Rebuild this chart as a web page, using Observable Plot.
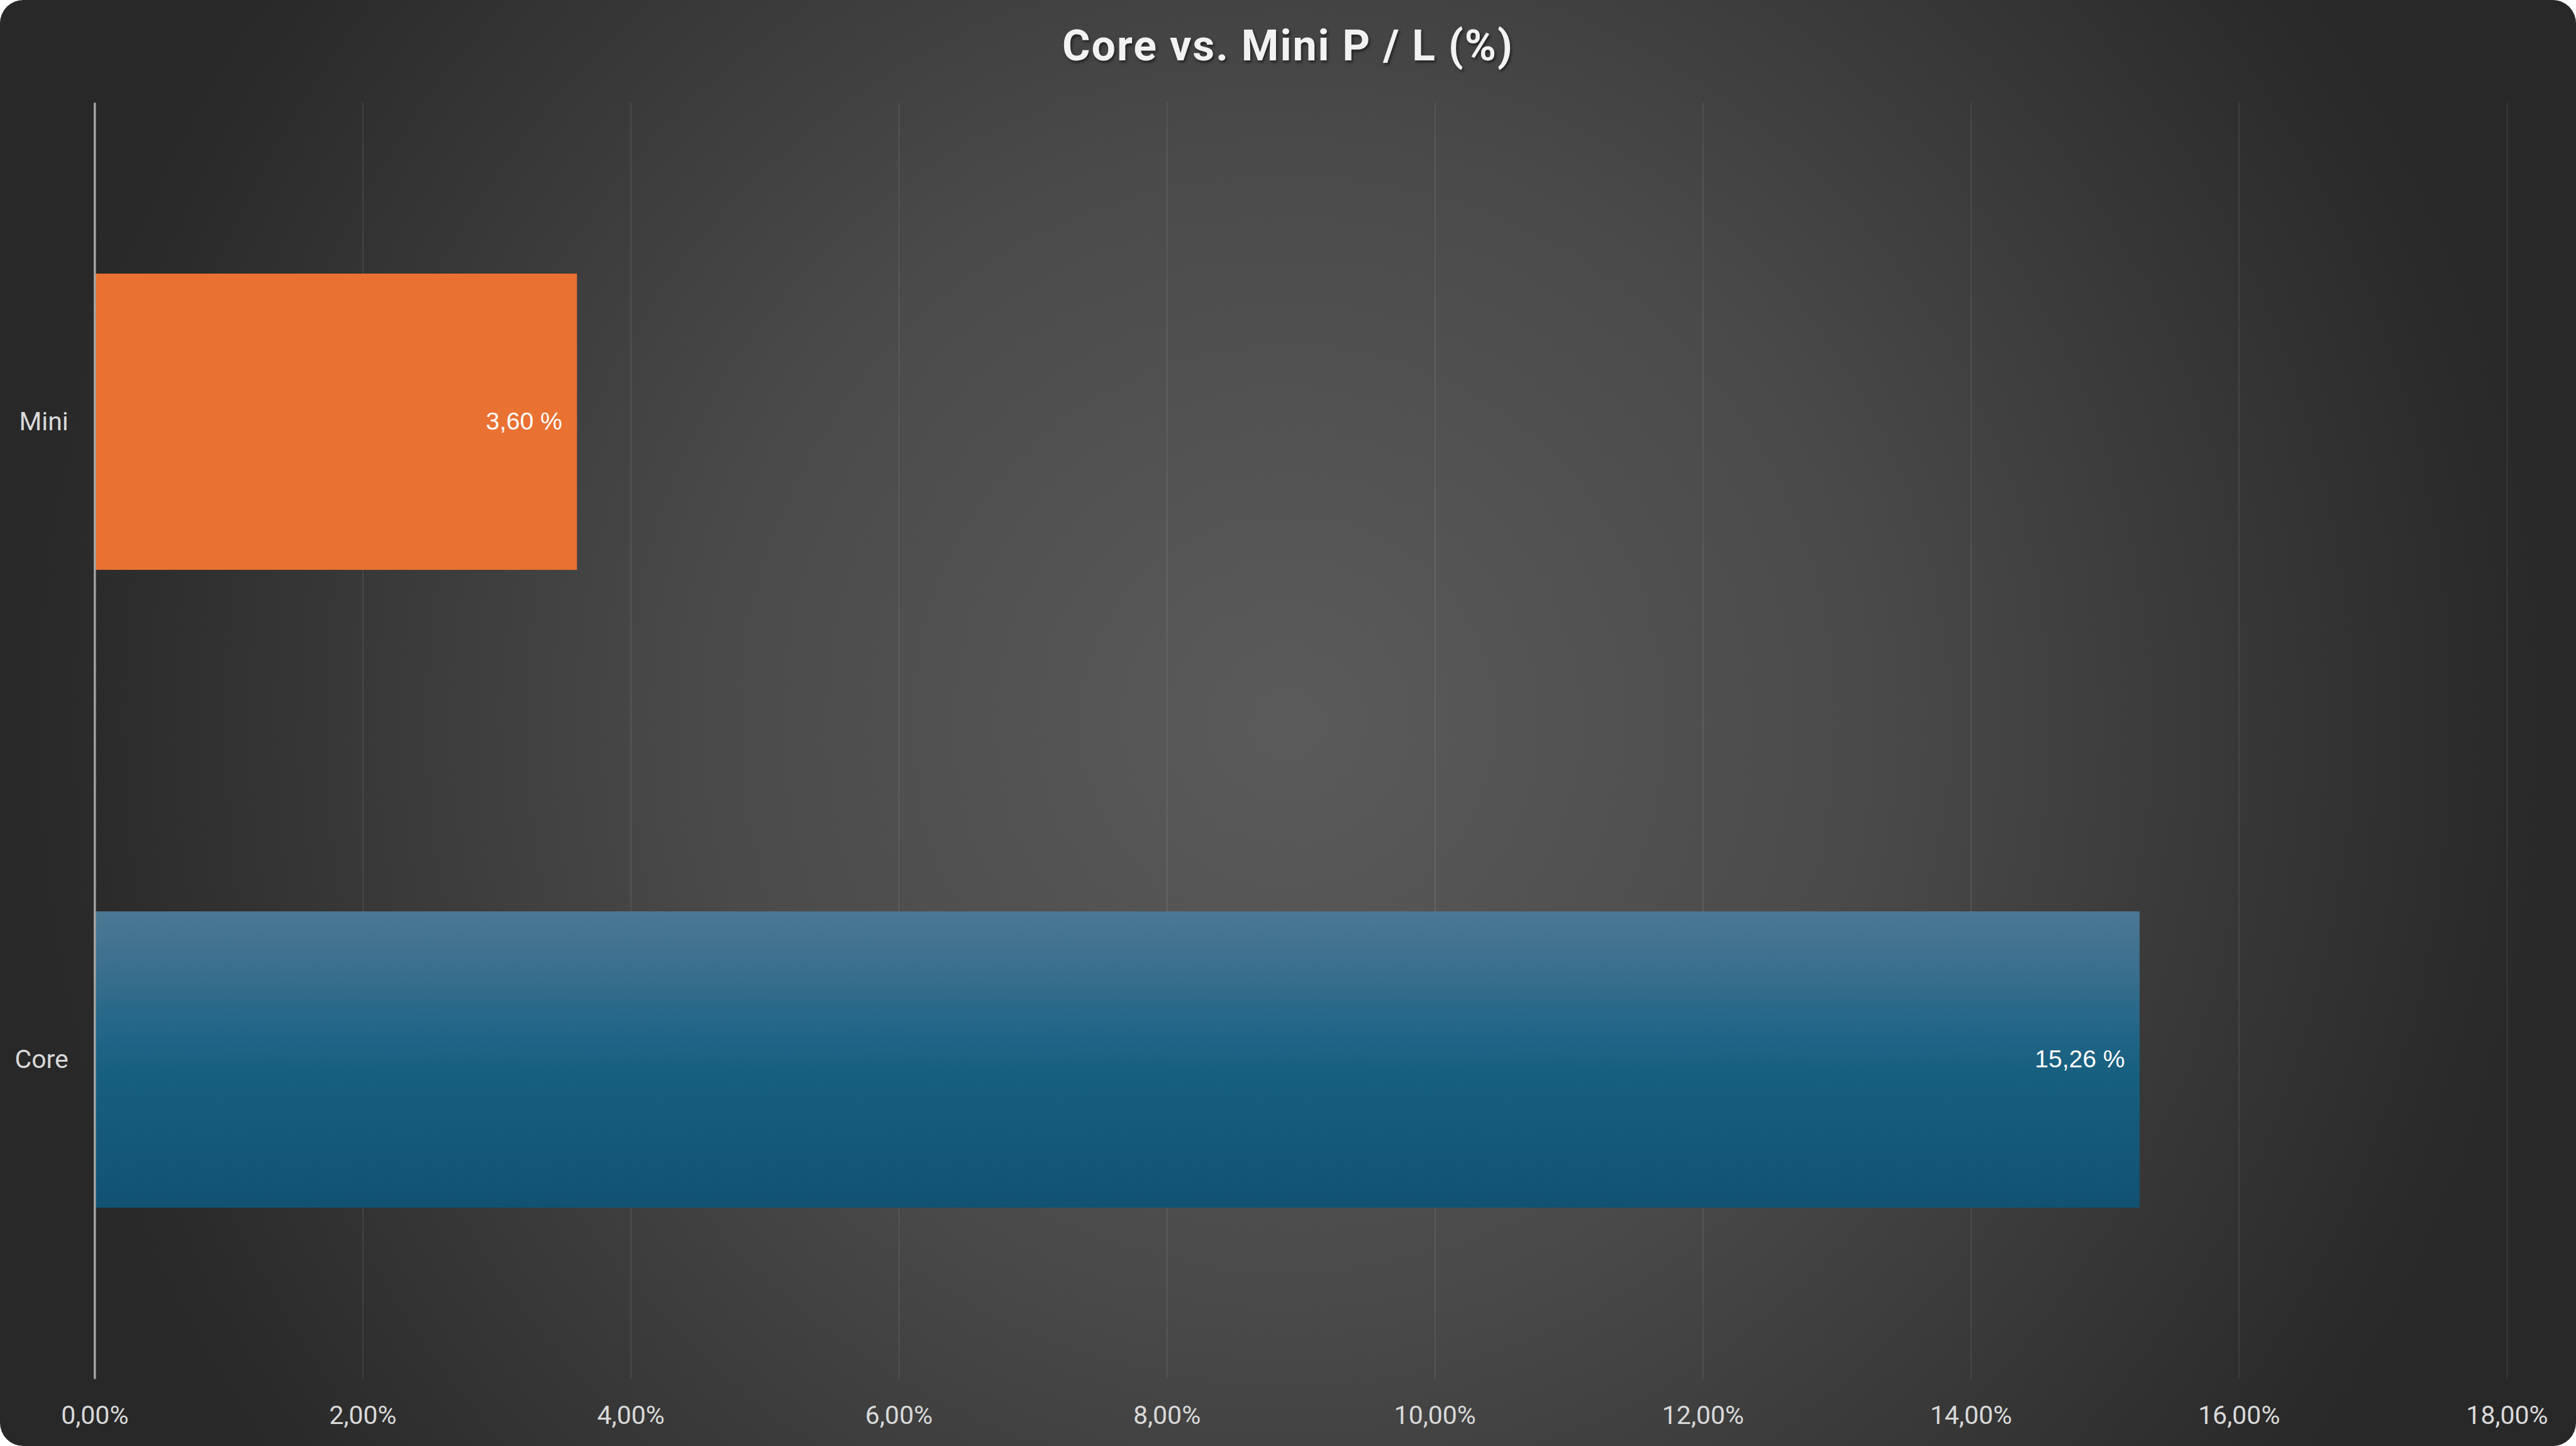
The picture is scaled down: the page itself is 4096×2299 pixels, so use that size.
<!DOCTYPE html>
<html>
<head>
<meta charset="utf-8">
<script src="https://cdn.jsdelivr.net/npm/d3@7"></script>
<script src="https://cdn.jsdelivr.net/npm/@observablehq/plot@0.6"></script>
<style>
  html, body { margin: 0; padding: 0; background: #ffffff; }
  #chart {
    position: relative;
    width: 4096px;
    height: 2299px;
    border-radius: 37px;
    overflow: hidden;
    background: radial-gradient(circle farthest-side at 50% 50%, #5b5b5b 0%, #4a4a4a 45%, #2a2a2a 95%, #282828 100%);
  }
  #title {
    position: absolute;
    left: 0; top: 0;
    width: 4096px;
    height: 146px;
    line-height: 146px;
    text-align: center;
    font-family: Roboto, sans-serif;
    font-weight: 700;
    font-size: 68px;
    letter-spacing: 2px;
    color: #f2f2f2;
    text-shadow: 2px 3px 4px rgba(0,0,0,0.55);
  }
  #plot { position: absolute; left: 0; top: 120px; }
</style>
</head>
<body>
<div id="chart">
  <div id="title">Core vs. Mini P / L (%)</div>
  <div id="plot"></div>
</div>
<script>
// Data
const categories = ["Mini", "Core"];
const values = [3.60, 15.26];          // percent
const xTicks = [0, 2, 4, 6, 8, 10, 12, 14, 16, 18];
const title = "Core vs. Mini P / L (%)";

const data = categories.map((c, i) => ({cat: c, value: values[i]}));

const ORANGE = "#E97132";
const fmtTick = d => d.toFixed(2).replace(".", ",") + "%";
const fmtVal = d => d.toFixed(2).replace(".", ",") + " %";

const defs = () => {
  const svgNS = "http://www.w3.org/2000/svg";
  const g = document.createElementNS(svgNS, "defs");
  g.innerHTML = `
    <linearGradient id="coreGrad" x1="0" y1="0" x2="0" y2="1">
      <stop offset="0%" stop-color="#4B7894"/>
      <stop offset="20%" stop-color="#3A6F8D"/>
      <stop offset="40%" stop-color="#226688"/>
      <stop offset="55%" stop-color="#175F7F"/>
      <stop offset="100%" stop-color="#115273"/>
    </linearGradient>`;
  return g;
};

const chart = Plot.plot({
  width: 4096,
  height: 2179,
  marginTop: 43.2,
  marginBottom: 106.5,
  marginLeft: 150.3,
  marginRight: 110,
  style: {background: "transparent", color: "#d9d9d9", fontFamily: "Roboto, sans-serif", overflow: "visible"},
  x: {domain: [0, 18], ticks: xTicks},
  y: {domain: categories, paddingInner: 0.5357, paddingOuter: 0.268},
  color: {type: "identity"},
  marks: [
    defs,
    Plot.gridX(xTicks, {stroke: "#ffffff", strokeOpacity: 0.1, strokeWidth: 1.6}),
    Plot.barX(data, {
      x: "value",
      y: "cat",
      fill: d => d.cat === "Core" ? "url(#coreGrad)" : ORANGE
    }),
    Plot.ruleX([0], {stroke: "#a3a3a3", strokeWidth: 3.5}),
    Plot.text(data, {
      x: "value",
      y: "cat",
      text: d => fmtVal(d.value),
      textAnchor: "end",
      dx: -24,
      fill: "#ffffff",
      fontSize: 39,
      fontFamily: "'Liberation Sans', Arial, sans-serif"
    }),
    Plot.axisX(xTicks, {
      anchor: "bottom",
      tickSize: 0,
      tickPadding: 42,
      tickFormat: fmtTick,
      fontSize: 41,
      fill: "#d9d9d9",
      label: null
    }),
    Plot.axisY(categories, {
      anchor: "left",
      tickSize: 0,
      tickPadding: 42,
      fontSize: 41,
      fill: "#d9d9d9",
      label: null
    })
  ]
});
document.getElementById("plot").appendChild(chart);
</script>
</body>
</html>
